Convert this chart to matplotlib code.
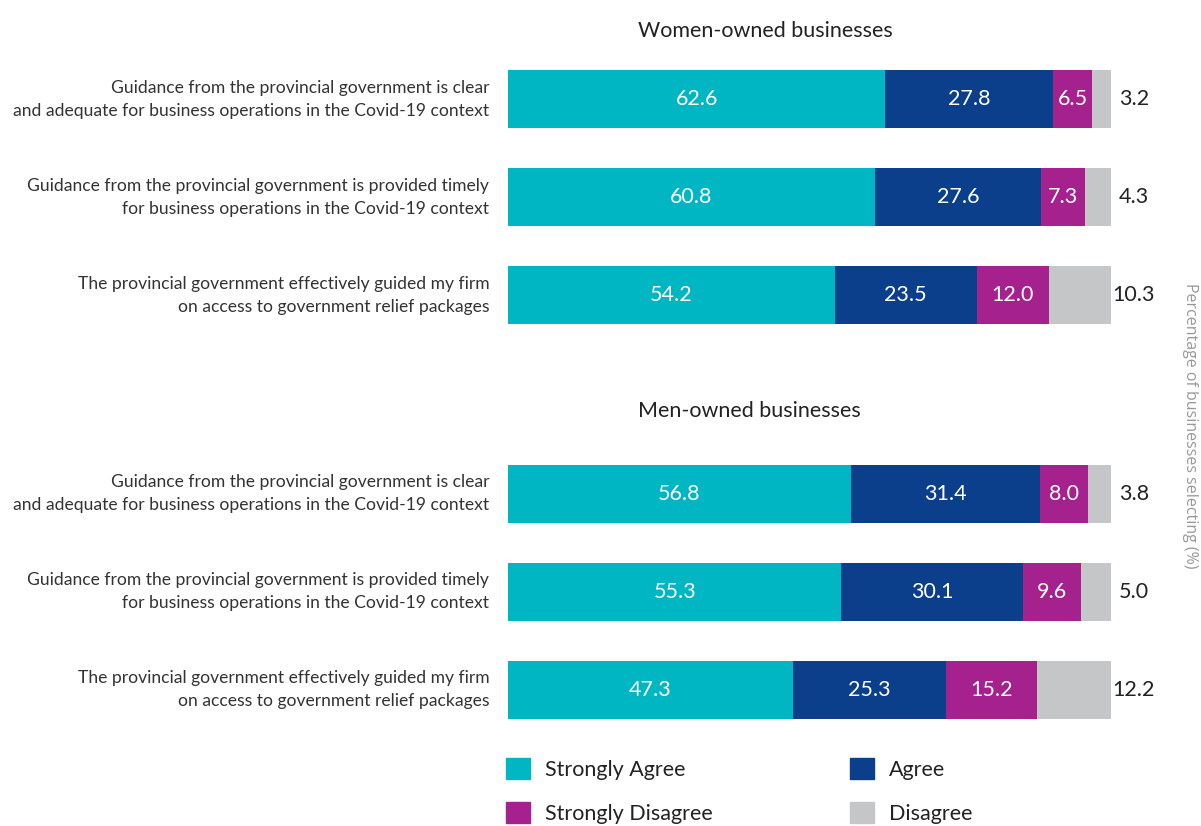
import numpy as np
import matplotlib
matplotlib.use("Agg")
import matplotlib.pyplot as plt
from matplotlib.patches import Patch

plt.rcParams["font.family"] = ["Lato", "DejaVu Sans"]

statements = [
    "Guidance from the provincial government is clear\nand adequate for business operations in the Covid-19 context",
    "Guidance from the provincial government is provided timely\nfor business operations in the Covid-19 context",
    "The provincial government effectively guided my firm\non access to government relief packages",
]
groups = ["Women-owned businesses", "Men-owned businesses"]
responses = ["Strongly Agree", "Agree", "Strongly Disagree", "Disagree"]

women_strongly_agree = [62.6, 60.8, 54.2]
women_agree = [27.8, 27.6, 23.5]
women_strongly_disagree = [6.5, 7.3, 12.0]
women_disagree = [3.2, 4.3, 10.3]

men_strongly_agree = [56.8, 55.3, 47.3]
men_agree = [31.4, 30.1, 25.3]
men_strongly_disagree = [8.0, 9.6, 15.2]
men_disagree = [3.8, 5.0, 12.2]

colors = ["#00b6c3", "#0b3f8b", "#a4218e", "#c5c6c8"]

fig = plt.figure(figsize=(12.01, 8.26), dpi=100)
# axes spans full height; rows are placed in row units
ax = fig.add_axes([508 / 1201, 0, (1111 - 508) / 1201, 1])
ax.set_xlim(0, 100)
ax.set_ylim(7.408, -1.010)
ax.axis("off")

blocks = [
    (np.arange(3), [women_strongly_agree, women_agree, women_strongly_disagree, women_disagree]),
    (np.arange(3) + 4.02, [men_strongly_agree, men_agree, men_strongly_disagree, men_disagree]),
]

for gi, (ypos, series) in enumerate(blocks):
    left = np.zeros(3)
    for si, vals in enumerate(series):
        vals = np.array(vals)
        bars = ax.barh(ypos, vals, left=left, height=0.59, color=colors[si],
                       label=responses[si] if gi == 0 else None)
        for b, v in zip(bars, vals):
            if si < 3:
                ax.text(b.get_x() + b.get_width() / 2, b.get_y() + b.get_height() / 2,
                        f"{v:.1f}", ha="center", va="center", color="white", fontsize=15.5)
            else:
                ax.annotate(f"{v:.1f}", (100, b.get_y() + b.get_height() / 2),
                            xytext=(16.5, 0), textcoords="offset points",
                            ha="center", va="center", color="#222222", fontsize=15.5)
        left += vals
    for y, s in zip(ypos, statements):
        ax.annotate(s, (0, y), xytext=(-13.5, 0), textcoords="offset points",
                    ha="right", va="center", color="#333333", fontsize=12.6,
                    linespacing=1.55, annotation_clip=False)
    ax.text(21.6, ypos[0] - 0.69 - (0.15 if gi else 0), groups[gi], ha="left", va="center",
            color="#222222", fontsize=15.5)

handles = [Patch(color=c) for c in colors]
order = [0, 2, 1, 3]
fig.legend([handles[i] for i in order], [responses[i] for i in order],
           ncol=2, loc="upper left", bbox_to_anchor=(506 / 1201, 1 - 758 / 826),
           frameon=False, fontsize=15.5, handlelength=1.1, handleheight=1.1,
           handletextpad=0.7, columnspacing=6.38, labelspacing=1.05,
           borderpad=0, borderaxespad=0, labelcolor="#222222")

fig.text(0.991, 1 - 426 / 826, "Percentage of businesses selecting (%)", rotation=270,
         ha="center", va="center", color="#999999", fontsize=11.5,
         family=["Open Sans", "DejaVu Sans"])

fig.savefig("out.png", dpi=100)
